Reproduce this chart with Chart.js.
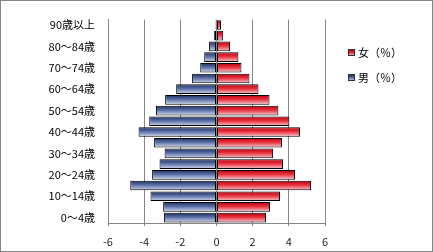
<!DOCTYPE html>
<html><head><meta charset="utf-8">
<script src="https://cdn.jsdelivr.net/npm/chart.js@4"></script>
<style>html,body{margin:0;padding:0;background:#fff}</style>
</head>
<body>
<canvas id="c" width="433" height="252"></canvas>
<script>
const categories = ['0～4歳','5～9歳','10～14歳','15～19歳','20～24歳','25～29歳','30～34歳','35～39歳','40～44歳','45～49歳','50～54歳','55～59歳','60～64歳','65～69歳','70～74歳','75～79歳','80～84歳','85～89歳','90歳以上'];
const maleValues = [-2.90,-2.95,-3.65,-4.77,-3.56,-3.15,-2.87,-3.45,-4.31,-3.72,-3.35,-2.84,-2.23,-1.35,-0.90,-0.68,-0.41,-0.13,-0.05];
const femaleValues = [2.74,2.96,3.51,5.23,4.34,3.68,3.13,3.62,4.62,4.03,3.42,2.93,2.32,1.82,1.38,1.21,0.75,0.37,0.25];
const xTicks = [-6,-4,-2,0,2,4,6];
const seriesNames = ['女（％）','男（％）'];

const FONT = '"Noto Sans CJK JP", "Noto Sans", sans-serif';
const femaleStops = ['#b8000f','#e8303e','#f6cdd3'];
const maleStops = ['#1a2d5e','#5b6fa6','#d3dbef'];

function makeGrad(ctx, top, bottom, stops){
  const g = ctx.createLinearGradient(0, top, 0, bottom);
  g.addColorStop(0, stops[0]);
  g.addColorStop(0.45, stops[1]);
  g.addColorStop(1, stops[2]);
  return g;
}
function barFill(stops){
  return function(c){
    const chart = c.chart;
    const ys = chart.scales && chart.scales.y;
    if (!chart.chartArea || !ys || c.dataIndex === undefined) return stops[1];
    const center = ys.getPixelForValue(c.dataIndex);
    const half = ys.height / categories.length * 0.9 / 2;
    return makeGrad(chart.ctx, center - half, center + half, stops);
  };
}

const framePlugin = {
  id: 'frame',
  beforeDraw(chart){
    const ctx = chart.ctx;
    ctx.save(); ctx.fillStyle = '#fff'; ctx.fillRect(0,0,chart.width,chart.height); ctx.restore();
  },
  afterDraw(chart){
    const ctx = chart.ctx;
    ctx.save();
    ctx.strokeStyle = '#868686'; ctx.lineWidth = 1;
    ctx.strokeRect(0.5, 0.5, chart.width - 1, chart.height - 1);
    // legend
    ctx.font = '11px ' + FONT;
    ctx.textBaseline = 'middle';
    ctx.fillStyle = '#000';
    const stopsList = [femaleStops, maleStops];
    chart.data.datasets.forEach((ds, i) => {
      const y = 53 + i * 25;
      const g = makeGrad(ctx, y - 3, y + 3, stopsList[i]);
      ctx.fillStyle = g;
      ctx.fillRect(348.5, y - 3.5, 6, 6);
      ctx.strokeStyle = '#333';
      ctx.strokeRect(348.5, y - 3.5, 6, 6);
      ctx.fillStyle = '#000';
      ctx.fillText(ds.label, 358, y);
    });
    ctx.restore();
  }
};

new Chart(document.getElementById('c'), {
  type: 'bar',
  data: {
    labels: categories,
    datasets: [
      { label: seriesNames[0], data: femaleValues, backgroundColor: barFill(femaleStops), borderColor: '#000', borderWidth: 1, borderSkipped: false },
      { label: seriesNames[1], data: maleValues, backgroundColor: barFill(maleStops), borderColor: '#000', borderWidth: 1, borderSkipped: false }
    ]
  },
  options: {
    indexAxis: 'y',
    responsive: false,
    animation: false,
    devicePixelRatio: 1,
    layout: { padding: { top: 15, right: 108, bottom: 0, left: 0 } },
    datasets: { bar: { barPercentage: 0.9, categoryPercentage: 1 } },
    plugins: { legend: { display: false }, tooltip: { enabled: false } },
    scales: {
      x: {
        stacked: true,
        min: xTicks[0], max: xTicks[xTicks.length - 1],
        afterBuildTicks(s){ s.ticks = xTicks.map(v => ({ value: v })); },
        afterFit(s){ s.height = 29; },
        grid: { color: '#868686', tickLength: 3, drawTicks: true },
        border: { color: '#868686' },
        ticks: { color: '#222', font: { family: FONT, size: 11 }, padding: 9 }
      },
      y: {
        stacked: true,
        reverse: true,
        afterFit(s){ s.width = 108; },
        grid: { display: false, drawTicks: false },
        border: { display: true, color: '#868686' },
        ticks: {
          autoSkip: false,
          color: '#000',
          font: { family: FONT, size: 11 },
          padding: 13,
          callback(v, i){ return i % 2 === 0 ? categories[i] : ''; }
        }
      }
    }
  },
  plugins: [framePlugin]
});
</script>
</body></html>
